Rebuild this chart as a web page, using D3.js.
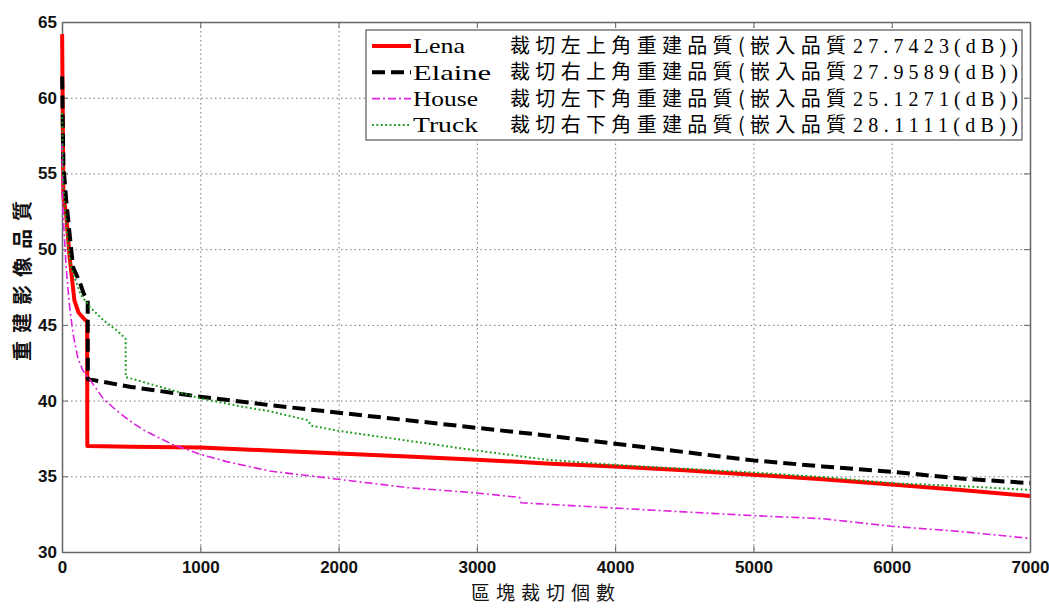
<!DOCTYPE html>
<html>
<head>
<meta charset="utf-8">
<script src="https://cdn.jsdelivr.net/npm/d3@7"></script>
<style>
  body { margin: 0; background: #fff; }
  .tick text { font-family: "Liberation Sans", Arial, sans-serif; font-weight: bold; font-size: 17px; fill: #111; }
  .grid line { stroke: #777; stroke-dasharray: 1.5,3; }
  .cjk { font-family: "Noto Sans CJK TC", "Noto Sans CJK SC", sans-serif; }
</style>
</head>
<body>
<svg id="chart" width="1049" height="608"></svg>
<script>
// values
var lena_x = [1, 10, 30, 55, 90, 120, 160, 182, 183, 500, 1000, 1500, 2000, 2500, 3000, 3500, 4000, 4500, 5000, 5500, 6000, 6500, 7000];
var lena_y = [64.2, 53.5, 52.3, 49.5, 46.6, 45.8, 45.4, 45.2, 37.0, 36.95, 36.9, 36.7, 36.5, 36.3, 36.1, 35.85, 35.65, 35.4, 35.1, 34.8, 34.45, 34.1, 33.7];

var elaine_x = [1, 10, 30, 55, 80, 125, 160, 186, 187, 230, 500, 1000, 1500, 2000, 2500, 3000, 3500, 4000, 4500, 5000, 5500, 6000, 6500, 7000];
var elaine_y = [61.4, 55.5, 53.3, 51.0, 48.8, 47.9, 47.0, 46.6, 41.4, 41.35, 40.9, 40.25, 39.7, 39.2, 38.7, 38.2, 37.7, 37.15, 36.6, 36.05, 35.65, 35.3, 34.85, 34.55];

var house_x = [1, 5, 30, 55, 80, 115, 150, 200, 300, 400, 500, 600, 800, 1000, 1200, 1500, 2000, 2500, 3000, 3310, 3320, 4000, 4500, 5000, 5500, 6000, 6500, 7000];
var house_y = [57, 52.8, 48.8, 46.2, 44.4, 42.8, 42.0, 41.4, 40.1, 39.3, 38.6, 38.0, 37.1, 36.45, 35.95, 35.35, 34.8, 34.25, 33.9, 33.6, 33.25, 32.9, 32.65, 32.4, 32.2, 31.7, 31.35, 30.9];

var truck_x = [1, 10, 40, 65, 135, 200, 300, 400, 460, 461, 560, 750, 1000, 1300, 1500, 1780, 1800, 2000, 2500, 3000, 3500, 4000, 4500, 5000, 5500, 6000, 6500, 7000];
var truck_y = [59.0, 54, 50.6, 48.8, 47.0, 46.2, 45.3, 44.6, 44.1, 41.55, 41.3, 40.8, 40.15, 39.6, 39.3, 38.7, 38.35, 38.0, 37.35, 36.7, 36.1, 35.75, 35.5, 35.25, 34.95, 34.55, 34.35, 34.1];

var names = ["Lena", "Elaine", "House", "Truck"];
var descs = ["裁切左上角重建品質(嵌入品質", "裁切右上角重建品質(嵌入品質",
             "裁切左下角重建品質(嵌入品質", "裁切右下角重建品質(嵌入品質"];
var psnr = ["27.7423(dB))", "27.9589(dB))", "25.1271(dB))", "28.1111(dB))"];
var x_ticks = [0, 1000, 2000, 3000, 4000, 5000, 6000, 7000];
var y_ticks = [30, 35, 40, 45, 50, 55, 60, 65];

var styles = [
  {color: "#ff0000", width: 4, dash: null},
  {color: "#000000", width: 4, dash: "13,6"},
  {color: "#dd22dd", width: 1.6, dash: "8,3,2,3"},
  {color: "#1a9a1a", width: 2, dash: "1.8,2.6"}
];

var series = [
  {x: lena_x, y: lena_y},
  {x: elaine_x, y: elaine_y},
  {x: house_x, y: house_y},
  {x: truck_x, y: truck_y}
];

var margin = {top: 22, right: 19, bottom: 56, left: 62};
var width = 1049 - margin.left - margin.right;
var height = 608 - margin.top - margin.bottom;

var x = d3.scaleLinear().domain([0, 7000]).range([0, width]);
var y = d3.scaleLinear().domain([30, 65]).range([height, 0]);

var svg = d3.select("#chart");
var g = svg.append("g")
  .attr("transform", "translate(" + margin.left + "," + margin.top + ")");

// grid
g.append("g")
  .attr("class", "grid")
  .call(d3.axisBottom(x).tickValues(x_ticks.slice(1, -1)).tickSize(height).tickFormat(""))
  .call(function(s){ s.select(".domain").remove(); });
g.append("g")
  .attr("class", "grid")
  .call(d3.axisLeft(y).tickValues(y_ticks.slice(1, -1)).tickSize(-width).tickFormat(""))
  .call(function(s){ s.select(".domain").remove(); });

// axes, ticks pointing inside
g.append("g")
  .attr("class", "axis")
  .attr("transform", "translate(0," + height + ")")
  .call(d3.axisBottom(x).tickValues(x_ticks).tickFormat(d3.format("d"))
    .tickSizeInner(-6).tickSizeOuter(0).tickPadding(9));
g.append("g")
  .attr("class", "axis")
  .call(d3.axisLeft(y).tickValues(y_ticks).tickSizeInner(-6).tickSizeOuter(0).tickPadding(5));
g.append("g")
  .attr("class", "axis")
  .attr("transform", "translate(" + width + ",0)")
  .call(d3.axisRight(y).tickValues(y_ticks).tickSizeInner(-6).tickSizeOuter(0).tickFormat(""));
g.append("g")
  .attr("class", "axis")
  .call(d3.axisTop(x).tickValues(x_ticks).tickSizeInner(-6).tickSizeOuter(0).tickFormat(""));
g.selectAll(".axis .domain").attr("stroke", "#666").attr("stroke-width", 1.5);
g.selectAll(".axis .tick line").attr("stroke", "#666");

// curves
var line = d3.line()
  .x(function(d){ return x(d[0]); })
  .y(function(d){ return y(d[1]); });

series.forEach(function(s, i){
  var pts = s.x.map(function(v, j){ return [v, s.y[j]]; });
  g.append("path")
    .datum(pts)
    .attr("fill", "none")
    .attr("stroke", styles[i].color)
    .attr("stroke-width", styles[i].width)
    .attr("stroke-dasharray", styles[i].dash)
    .attr("stroke-linejoin", "round")
    .attr("d", line);
});

// axis labels
svg.append("text")
  .attr("class", "cjk")
  .attr("x", 546)
  .attr("y", 600)
  .attr("text-anchor", "middle")
  .attr("font-size", 19)
  .attr("letter-spacing", 6)
  .attr("fill", "#111")
  .text("區塊裁切個數");

svg.append("text")
  .attr("class", "cjk")
  .attr("transform", "translate(30,277)rotate(-90)")
  .attr("text-anchor", "middle")
  .attr("font-size", 20)
  .attr("font-weight", "bold")
  .attr("letter-spacing", 8)
  .attr("fill", "#111")
  .text("重建影像品質");

// legend
var legend = svg.append("g").attr("transform", "translate(366,30)");
legend.append("rect")
  .attr("width", 656)
  .attr("height", 110)
  .attr("fill", "#fff")
  .attr("stroke", "#555")
  .attr("stroke-width", 1.2);

var rows = legend.selectAll(".row")
  .data(names).enter()
  .append("g")
  .attr("class", "row")
  .attr("transform", function(d, i){ return "translate(0," + (16 + i * 26.3) + ")"; });

rows.append("line")
  .attr("x1", 6).attr("x2", 45)
  .attr("stroke", function(d, i){ return styles[i].color; })
  .attr("stroke-width", function(d, i){ return styles[i].width; })
  .attr("stroke-dasharray", function(d, i){ return styles[i].dash; });

rows.append("text")
  .attr("x", 47)
  .attr("dy", "0.35em")
  .attr("font-family", "Liberation Serif, serif")
  .attr("font-size", 21)
  .attr("textLength", function(d){ return d.length * 13; })
  .attr("lengthAdjust", "spacingAndGlyphs")
  .text(function(d){ return d; });

rows.append("text")
  .attr("class", "cjk")
  .attr("x", 144)
  .attr("dy", "0.35em")
  .attr("font-size", 20)
  .attr("textLength", 336)
  .attr("lengthAdjust", "spacing")
  .text(function(d, i){ return descs[i]; });

rows.append("text")
  .attr("x", 487)
  .attr("dy", "0.35em")
  .attr("font-family", "Liberation Serif, serif")
  .attr("font-size", 20)
  .attr("textLength", 165)
  .attr("lengthAdjust", "spacing")
  .text(function(d, i){ return psnr[i]; });
</script>
</body>
</html>
